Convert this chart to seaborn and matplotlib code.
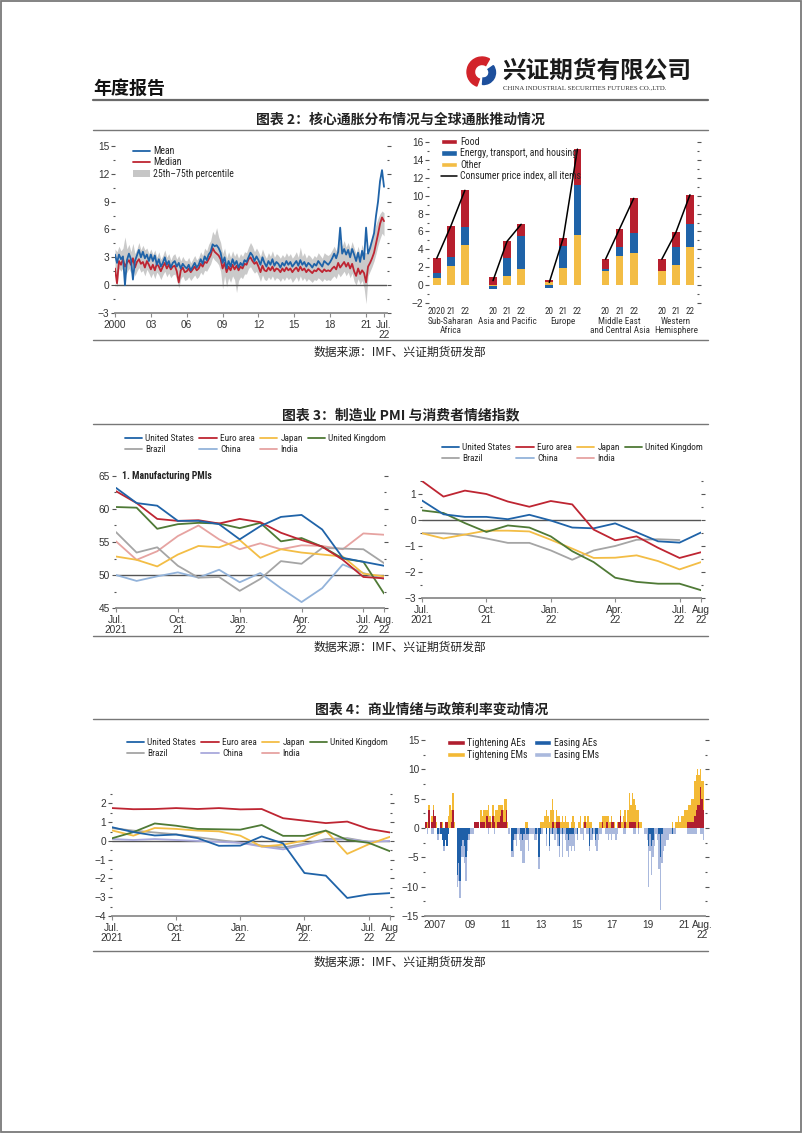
import numpy as np
import pandas as pd
import matplotlib
matplotlib.use('Agg')
import matplotlib.pyplot as plt
import seaborn as sns
from matplotlib.patches import Patch, Rectangle, Wedge
from matplotlib.lines import Line2D
from matplotlib import font_manager as fm
from matplotlib.ticker import MultipleLocator

sns.set_theme(style='white')
_names = {f.name for f in fm.fontManager.ttflist}
COND = next((n for n in ['Roboto Condensed', 'Archivo Narrow', 'PT Sans Narrow',
                         'IBM Plex Sans Condensed', 'Fira Sans Condensed',
                         'Barlow Semi Condensed', 'Liberation Sans Narrow', 'Liberation Sans']
             if n in _names), 'DejaVu Sans')
TICKF = 'Liberation Sans' if 'Liberation Sans' in _names else 'DejaVu Sans'
CJK = 'Noto Sans CJK SC'
plt.rcParams['font.family'] = [TICKF, 'DejaVu Sans']
plt.rcParams['axes.unicode_minus'] = True

# ---------------- Chart 1: core inflation distribution (bimonthly, 2000 - Jul 2022)
cpi_mean = [
    3.3, 2.4, 3.3, 2.8, 3.1, 0.0,
    2.7, 3.4, 2.8, 0.6, 2.6, 3.2,
    3.8, 3.0, 3.6, 2.9, 3.3, 2.6,
    3.3, 2.6, 3.2, 2.2, 2.8, 2.0,
    2.4, 3.0, 2.2, 2.6, 1.9, 2.4,
    2.6, 2.0, 2.4, 1.8, 2.3, 2.0,
    1.8, 2.2, 1.6, 2.0, 2.4, 1.9,
    2.2, 2.8, 2.3, 3.1, 2.7, 3.3,
    3.6, 4.4, 4.2, 4.3, 4.0, 3.5,
    2.4, 3.0, 1.8, 2.6, 2.0, 2.8,
    2.2, 2.6, 1.9, 2.4, 2.1, 2.7,
    2.5, 3.0, 3.5, 3.2, 2.6, 3.1,
    2.7, 2.2, 3.0, 2.4, 2.0, 2.6,
    2.2, 2.8, 2.1, 2.5, 2.3, 1.9,
    2.4, 2.1, 2.6, 2.2, 2.5, 2.0,
    2.3, 2.6, 2.1, 2.7, 2.2, 2.5,
    2.0, 2.4, 2.2, 1.9, 2.3, 2.1,
    2.6, 2.3, 2.0, 2.6, 2.4, 2.2,
    2.5, 2.9, 3.4, 2.9, 3.6, 6.2,
    3.4, 3.9, 3.3, 3.8, 3.0, 3.9,
    3.3, 2.6, 3.5, 2.5, 3.7, 2.8,
    6.2, 3.4, 4.0, 4.8, 5.6, 7.5,
    9.0, 11.2, 12.4, 10.6,
]
cpi_median = [
    1.8, 0.2, 2.6, 2.2, 2.8, 2.0,
    2.4, 2.7, 2.2, 2.9, 1.9, 2.5,
    2.8, 2.3, 2.5, 1.9, 2.6, 2.2,
    1.7, 2.2, 1.6, 2.3, 2.0, 1.5,
    2.0, 2.4, 1.8, 2.2, 1.7, 2.0,
    2.1, 1.5, 0.3, 1.6, 1.9, 1.4,
    1.5, 1.8, 1.4, 1.7, 2.0, 1.6,
    1.8, 2.3, 2.0, 2.5, 2.4, 2.8,
    3.2, 4.0, 3.6, 3.4, 3.2, 2.8,
    1.8, 2.4, 1.4, 2.0, 1.6, 2.2,
    1.7, 2.1, 1.6, 2.0, 1.8, 2.3,
    2.2, 2.8, 3.0, 2.6, 2.3, 2.5,
    2.0, 1.4, 2.1, 1.6, 1.5, 1.9,
    1.6, 2.0, 1.5, 1.8, 1.7, 1.4,
    1.8, 1.5, 1.9, 1.6, 1.8, 1.4,
    1.7, 1.9, 1.5, 2.0, 1.6, 1.8,
    1.4, 1.7, 1.5, 1.3, 1.6, 1.5,
    1.8, 1.6, 1.4, 1.7, 1.5, 1.6,
    1.5, 1.8, 2.0, 1.7, 2.4, 1.9,
    2.2, 2.5, 2.0, 2.4, 1.8, 2.3,
    1.5, 1.0, 1.8, 1.2, 1.6, 1.3,
    0.3, 2.0, 2.4, 2.9, 3.5, 4.5,
    5.5, 6.6, 7.3, 6.9,
]
cpi_p75 = [
    3.9, 3.6, 4.2, 3.7, 4.0, 5.2,
    3.9, 4.4, 3.6, 4.5, 3.4, 3.9,
    4.6, 3.8, 4.3, 3.8, 4.0, 3.4,
    3.9, 3.3, 3.8, 3.0, 3.6, 2.8,
    3.2, 3.8, 3.0, 3.4, 2.7, 3.2,
    3.4, 2.8, 3.2, 2.6, 3.1, 2.7,
    2.6, 3.0, 2.4, 2.8, 3.2, 2.7,
    3.0, 3.6, 3.2, 4.0, 3.7, 4.4,
    4.8, 5.8, 5.4, 6.2, 5.2, 4.6,
    3.4, 4.0, 2.9, 3.6, 3.0, 3.7,
    3.1, 3.5, 2.9, 3.4, 3.1, 3.6,
    3.5, 4.1, 4.6, 4.2, 3.6, 4.0,
    3.6, 3.1, 3.9, 3.3, 2.9, 3.5,
    3.1, 3.7, 3.0, 3.4, 3.2, 2.9,
    3.3, 3.0, 3.5, 3.1, 3.4, 2.9,
    3.2, 3.6, 3.0, 4.1, 3.1, 3.5,
    2.9, 3.3, 3.1, 2.8, 3.2, 3.0,
    3.5, 3.2, 2.9, 3.5, 3.3, 3.2,
    3.4, 3.8, 4.2, 3.7, 4.4, 4.8,
    4.2, 4.8, 4.1, 4.6, 3.9, 4.7,
    4.0, 3.4, 4.2, 3.3, 4.4, 3.5,
    3.5, 3.9, 4.6, 5.2, 5.8, 6.6,
    7.2, 7.7, 8.0, 7.8,
]
cpi_p25 = [
    1.2, -0.2, 1.8, 1.5, 1.9, 1.0,
    1.4, 1.8, 1.3, 2.0, 1.0, 1.5,
    1.9, 1.4, 1.6, 1.0, 1.7, 1.3,
    0.8, 1.3, 0.7, 1.4, 1.1, 0.6,
    1.1, 1.5, 0.9, 1.3, 0.8, 1.1,
    1.2, 0.6, -0.3, 0.7, 1.0, 0.5,
    0.6, 0.9, 0.5, 0.8, 1.1, 0.7,
    0.9, 1.4, 1.1, 1.6, 1.5, 1.9,
    2.3, 3.0, 2.7, 2.5, 2.2, 1.5,
    -0.4, 1.0, -0.2, 0.8, 0.3, 1.0,
    0.6, -0.8, 0.5, 0.9, 0.7, 1.2,
    1.2, 1.8, 2.0, 1.6, 1.3, 1.5,
    1.0, 0.4, 1.1, 0.6, 0.5, 0.9,
    0.6, 1.0, 0.5, 0.8, 0.7, 0.4,
    0.8, 0.5, 0.9, 0.6, 0.8, 0.3,
    0.6, 0.9, 0.4, 1.0, 0.5, 0.8,
    0.4, 0.7, 0.5, 0.3, 0.6, 0.5,
    0.8, 0.6, 0.4, 0.7, 0.5, 0.6,
    0.5, 0.8, 1.0, 0.7, 1.3, 0.9,
    1.2, 1.5, 1.0, 1.4, 0.8, 1.3,
    0.4, 0.0, 0.7, 0.1, 0.5, -0.3,
    -2.0, 1.0, 1.5, 2.0, 2.6, 3.4,
    4.3, 5.0, 5.6, 5.3,
]
c1_ticks = [2000, 2003, 2006, 2009, 2012, 2015, 2018, 2021, 2022.5]
c1_labels = ['2000', '03', '06', '09', '12', '15', '18', '21', 'Jul.\n22']

# ---------------- Chart 2: drivers of inflation by region
regions = ['Sub-Saharan\nAfrica', 'Asia and Pacific', 'Europe',
           'Middle East\nand Central Asia', 'Western\nHemisphere']
year_labels = ['2020', '21', '22', '20', '21', '22', '20', '21', '22',
               '20', '21', '22', '20', '21', '22']
food = [1.7, 3.5, 4.1, 0.9, 1.9, 1.3, 0.3, 0.9, 4.0, 1.1, 2.0, 3.9, 1.3, 1.6, 3.3]
energy = [0.5, 1.0, 2.0, -0.25, 2.0, 3.7, -0.35, 2.5, 5.6, 0.2, 1.0, 2.2, 0.0, 2.1, 2.5]
other = [0.8, 2.1, 4.5, -0.15, 1.0, 1.8, 0.3, 1.9, 5.6, 1.6, 3.3, 3.6, 1.6, 2.2, 4.3]
cpi_all = [3.0, 6.6, 10.6, 0.5, 4.9, 6.8, 0.3, 5.3, 15.2, 2.9, 6.3, 9.7, 2.9, 5.9, 10.1]

# ---------------- Chart 3: Manufacturing PMIs, Jul 2021 - Aug 2022
month_ticks = [0, 3, 6, 9, 12, 13]
pmi_us = [63.2, 60.9, 60.5, 58.2, 58.2, 57.7, 55.4, 57.4, 58.8, 59.1, 56.9, 52.6, 52.0, 51.4]
pmi_euro = [62.7, 60.9, 58.5, 58.2, 58.3, 57.8, 58.5, 58.0, 56.4, 55.3, 54.3, 52.3, 49.7, 49.5]
pmi_japan = [52.8, 52.3, 51.3, 53.1, 54.4, 54.2, 55.3, 52.6, 53.9, 53.4, 53.1, 52.8, 50.2, 49.8]
pmi_uk = [60.3, 60.2, 57.0, 57.7, 57.9, 57.8, 57.1, 57.9, 55.1, 55.6, 54.3, 52.5, 52.0, 47.2]
pmi_brazil = [56.5, 53.4, 54.2, 51.4, 49.6, 49.7, 47.6, 49.4, 52.1, 51.7, 54.1, 54.0, 53.9, 51.8]
pmi_china = [50.0, 49.1, 49.8, 50.4, 49.6, 50.8, 48.9, 50.3, 48.0, 45.9, 48.0, 51.6, 50.3, 49.4]
pmi_india = [55.1, 52.3, 53.6, 55.9, 57.5, 55.4, 53.9, 54.8, 53.9, 54.5, 54.4, 53.9, 56.3, 56.1]

# ---------------- Chart 3 right: consumer confidence
cc_us = [0.75, 0.22, 0.12, 0.12, 0.03, 0.2, -0.02, -0.29, -0.32, -0.13, -0.47, -0.82, -0.87, -0.48]
cc_euro = [1.5, 0.9, 1.13, 1.0, 0.71, 0.51, 0.73, 0.6, -0.37, -0.78, -0.63, -1.07, -1.46, -1.24]
cc_japan = [-0.51, -0.71, -0.56, -0.41, -0.41, -0.44, -0.76, -1.1, -1.46, -1.45, -1.36, -1.58, -1.9, -1.62]
cc_uk = [0.37, 0.27, -0.12, -0.46, -0.21, -0.29, -0.63, -1.2, -1.62, -2.22, -2.38, -2.45, -2.45, -2.7]
cc_brazil = [-0.51, -0.51, -0.56, -0.71, -0.88, -0.88, -1.17, -1.53, -1.17, -1.0, -0.76, -0.74, -0.77, np.nan]

# ---------------- Chart 4 left: business confidence
bc_us = [0.73, 0.47, 0.29, 0.34, 0.15, -0.26, -0.25, 0.24, -0.13, -1.71, -1.85, -3.04, -2.85, -2.78]
bc_euro = [1.75, 1.69, 1.7, 1.75, 1.7, 1.75, 1.68, 1.7, 1.21, 1.08, 0.95, 1.03, 0.64, 0.45]
bc_japan = [0.56, 0.28, 0.69, 0.64, 0.55, 0.51, 0.28, -0.3, -0.2, 0.02, 0.55, -0.69, -0.18, 0.22]
bc_uk = [0.14, 0.47, 0.93, 0.81, 0.64, 0.62, 0.6, 0.85, 0.27, 0.27, 0.55, 0.05, -0.1, -0.55]
bc_brazil = [0.68, 0.55, 0.45, 0.35, 0.2, 0.05, -0.1, -0.25, -0.35, -0.15, 0.1, 0.15, -0.05, np.nan]
bc_china = [0.1, 0.05, 0.1, 0.05, 0.0, -0.05, -0.1, -0.3, -0.45, -0.2, 0.05, 0.1, -0.05, 0.0]

# ---------------- Chart 4 right: policy rate changes (monthly, Jan 2007 - Aug 2022)
tight_ae = [
    1, 0, 3, 0, 1, 3, 2, 0, 0, 0, 1, 0,
    0, 1, 1, 0, 0, 1, 3, 0, 0, 0, 0, 0,
    0, 0, 0, 0, 0, 0, 0, 0, 0, 1, 1, 1,
    0, 1, 1, 1, 0, 2, 1, 1, 0, 2, 1, 0,
    1, 1, 2, 3, 1, 1, 3, 0, 0, 0, 0, 0,
    0, 0, 0, 0, 0, 0, 0, 0, 0, 0, 0, 0,
    0, 0, 0, 0, 0, 0, 0, 0, 0, 0, 0, 0,
    0, 1, 1, 0, 1, 1, 1, 0, 0, 0, 0, 0,
    0, 0, 0, 0, 0, 0, 0, 0, 0, 0, 0, 1,
    0, 0, 0, 0, 0, 0, 0, 0, 0, 0, 0, 1,
    0, 0, 1, 0, 0, 1, 1, 0, 0, 0, 1, 2,
    0, 0, 1, 0, 0, 1, 1, 1, 1, 1, 0, 1,
    0, 0, 0, 0, 0, 0, 0, 0, 0, 0, 0, 0,
    0, 0, 0, 0, 0, 0, 0, 0, 0, 0, 0, 0,
    0, 0, 0, 0, 0, 0, 0, 0, 1, 1, 1, 1,
    1, 2, 3, 4, 4, 7, 5, 3,
]
tight_em = [
    0, 1, 1, 0, 1, 1, 0, 1, 0, 0, 0, 1,
    0, 0, 0, 2, 4, 2, 3, 1, 0, 0, 0, 0,
    0, 0, 0, 0, 0, 0, 0, 0, 0, 0, 0, 0,
    0, 2, 1, 2, 3, 1, 3, 1, 1, 2, 1, 3,
    2, 3, 2, 1, 2, 4, 2, 1, 0, 0, 0, 0,
    0, 0, 0, 0, 0, 0, 0, 1, 1, 0, 0, 0,
    0, 0, 0, 0, 0, 1, 1, 1, 2, 3, 2, 1,
    3, 4, 2, 1, 2, 1, 1, 1, 2, 1, 2, 1,
    1, 0, 1, 2, 1, 0, 0, 1, 2, 0, 1, 1,
    1, 2, 1, 1, 0, 0, 0, 0, 0, 1, 1, 1,
    2, 2, 1, 2, 1, 1, 0, 1, 0, 1, 0, 1,
    1, 2, 2, 1, 3, 5, 3, 5, 4, 3, 3, 2,
    1, 1, 0, 0, 0, 0, 0, 0, 0, 0, 0, 0,
    0, 0, 0, 0, 0, 0, 0, 0, 0, 0, 1, 0,
    1, 1, 2, 1, 2, 2, 3, 3, 2, 3, 3, 4,
    4, 6, 6, 6, 5, 3, 3, 5,
]
ease_ae = [
    0, 0, 0, 0, 0, 0, 0, 0, -1, 0, -1, -2,
    -3, -2, -3, -1, 0, 0, 0, 0, 0, -8, -6, -9,
    -3, -2, -3, -5, -2, -1, 0, 0, 0, 0, 0, 0,
    0, 0, 0, 0, 0, 0, 0, 0, 0, 0, 0, 0,
    0, 0, 0, 0, 0, 0, 0, 0, 0, 0, -4, -2,
    -1, -1, 0, 0, -1, -2, -1, 0, -1, -1, 0, 0,
    0, 0, -1, 0, -5, -1, 0, 0, 0, -1, 0, -3,
    0, -1, 0, 0, 0, -1, -3, 0, -1, 0, 0, -1,
    -2, -1, -1, -1, 0, 0, -1, 0, 0, 0, 0, 0,
    0, 0, -3, 0, -1, 0, -2, -1, 0, 0, 0, 0,
    0, 0, 0, 0, 0, 0, 0, 0, 0, 0, 0, 0,
    0, 0, 0, 0, 0, 0, 0, 0, 0, 0, 0, 0,
    0, 0, 0, 0, 0, 0, -3, -1, -3, -2, 0, 0,
    0, -1, -5, -1, 0, 0, 0, 0, 0, 0, -1, 0,
    0, 0, 0, 0, 0, 0, 0, 0, 0, 0, 0, 0,
    0, 0, 0, 0, 0, 0, 0, 0,
]
ease_em = [
    0, -1, 0, 0, -1, -1, 0, 0, -1, -1, 0, 0,
    -1, 0, 0, 0, 0, 0, 0, 0, 0, -2, -3, -3,
    -2, -3, -3, -4, -2, -1, -1, -1, -1, 0, 0, 0,
    0, 0, 0, 0, 0, 0, -1, 0, 0, 0, -1, 0,
    0, 0, 0, 0, 0, 0, 0, 0, -1, 0, -1, -3,
    -1, -2, -1, -2, -3, -4, -5, -2, -1, -3, -1, -1,
    -1, -2, -1, -1, -2, 0, -1, 0, 0, -2, 0, -1,
    -1, 0, -1, -2, -1, -2, -2, -1, -4, -1, -2, -3,
    -3, -2, -3, -2, -4, -1, -1, 0, -1, -1, -2, 0,
    -1, -1, -1, -2, -1, -1, -1, -3, -2, -1, -1, 0,
    0, -1, -1, -2, -1, -2, -1, -1, -2, -1, 0, 0,
    0, -1, -1, 0, 0, 0, 0, 0, -1, -1, 0, -1,
    0, 0, 0, -1, -1, -2, -7, -3, -5, -3, -3, -1,
    -2, -6, -9, -5, -4, -3, -2, -2, -1, -1, 0, -1,
    -1, 0, 0, 0, 0, 0, 0, 0, -1, -1, -1, -1,
    -1, -1, -1, 0, 0, -1, -1, -2,
]
c4r_ticks = [2007.5, 2009.5, 2011.5, 2013.5, 2015.5, 2017.5, 2019.5, 2021.5, 2022.55]
c4r_labels = ['2007', '09', '11', '13', '15', '17', '19', '21', 'Aug.\n22']

# ---------------- colours
BLUE = '#1f63a8'
RED = '#be2532'
YEL = '#f3bd45'
GREEN = '#4f7a36'
GRAY = '#a5a5a5'
LBLUE = '#93b3da'
LAV = '#a9a9dc'
PINK = '#e6a3a1'
TXT = '#222222'
LEGF = 6.7

W, H = 802, 1133
fig = plt.figure(figsize=(W / 100, H / 100), dpi=100)


def rect(x0, y0, x1, y1):
    return [x0 / W, 1 - y1 / H, (x1 - x0) / W, (y1 - y0) / H]


def fpt(x, y):
    return (x / W, 1 - y / H)


# background / page layer
bg = fig.add_axes([0, 0, 1, 1])
bg.set_xlim(0, W)
bg.set_ylim(H, 0)
bg.axis('off')
bg.add_patch(Rectangle((1, 1), W - 2.5, H - 2.5, fill=False, edgecolor='#7a7a7a', lw=1.3))
bg.text(93, 88, '年度报告', fontsize=13, weight='bold', family=[CJK, 'DejaVu Sans'],
        ha='left', va='center', color='#111111')
bg.add_patch(Wedge((482, 72), 15, 110, 300, width=7.5, color='#d2232a'))
bg.add_patch(Wedge((483.5, 72.5), 12, -35, 95, width=6.5, color='#1d4f9c'))
bg.text(502, 71, '兴证期货有限公司', fontsize=17, weight='bold', family=[CJK, 'DejaVu Sans'],
        ha='left', va='center', color='#1a1a1a')
bg.text(503, 87.5, 'CHINA INDUSTRIAL SECURITIES FUTURES CO.,LTD.', fontsize=4.9,
        family=['Liberation Serif', 'DejaVu Serif'], ha='left', va='center', color='#333333')
bg.plot([93, 708], [100, 100], color='#6a6a6a', lw=1.6)

titles = [(400, 120, '图表 2：核心通胀分布情况与全球通胀推动情况', 130),
          (401, 415, '图表 3：制造业 PMI 与消费者情绪指数', 424),
          (432, 710, '图表 4：商业情绪与政策利率变动情况', 719)]
for x, y, s, ly in titles:
    bg.text(x, y, s, fontsize=10, weight='bold', family=[CJK, 'DejaVu Sans'],
            ha='center', va='center', color=TXT)
    bg.plot([93, 708], [ly, ly], color='#777777', lw=1.0)
for ly, sy in [(340, 352), (636, 647), (951, 962)]:
    bg.plot([93, 708], [ly, ly], color='#777777', lw=1.0)
    bg.text(400, sy, '数据来源：IMF、兴证期货研发部', fontsize=8.5, family=[CJK, 'DejaVu Sans'],
            ha='center', va='center', color=TXT)


def style(ax, ymin, ymax, major, minor, bottom=True):
    ax.set_facecolor('none')
    ax.set_ylim(ymin, ymax)
    ax.yaxis.set_major_locator(MultipleLocator(major))
    ax.yaxis.set_minor_locator(MultipleLocator(minor))
    for s in ['top', 'right', 'left']:
        ax.spines[s].set_visible(False)
    ax.spines['bottom'].set_visible(bottom)
    ax.spines['bottom'].set_color('#8c8c8c')
    ax.spines['bottom'].set_linewidth(1.3)
    ax.tick_params(axis='y', which='both', left=True, right=True, labelleft=True,
                   labelright=False, direction='out', width=0.8, color='#555555',
                   labelsize=7.3, labelcolor='#333333', pad=1.5)
    ax.tick_params(axis='y', which='major', length=2.8)
    ax.tick_params(axis='y', which='minor', length=1.6)
    ax.tick_params(axis='x', which='both', bottom=True, top=False, direction='out', length=3,
                   width=0.8, color='#8c8c8c', labelsize=7.3, labelcolor='#333333', pad=2)
    ax.grid(False)


def set_xlabels(ax, ticks, labels):
    ax.set_xticks(ticks)
    ax.set_xticklabels(labels)
    for t in ax.get_xticklabels():
        t.set_linespacing(0.95)


def line_legend(ax, entries, x, y, ncol=4, colspace=0.55):
    handles = [Line2D([], [], color=c, lw=1.3) for _, c in entries]
    ax.legend(handles, [l for l, _ in entries], loc='upper left', bbox_to_anchor=fpt(x, y),
              bbox_transform=fig.transFigure, ncol=ncol, frameon=False,
              prop={'family': COND, 'size': LEGF},
              handlelength=1.85, handletextpad=0.35, columnspacing=colspace,
              labelspacing=0.2, borderpad=0, borderaxespad=0)


# ---------------- Chart 1
ax1 = fig.add_axes(rect(115, 146, 387, 313))
t1 = 2000 + np.arange(len(cpi_mean)) / 6
ax1.fill_between(t1, cpi_p25, cpi_p75, color='#cacaca', lw=0)
ax1.axhline(0, color='#555555', lw=1.0)
sns.lineplot(x=t1, y=cpi_median, ax=ax1, color=RED, lw=1.3)
sns.lineplot(x=t1, y=cpi_mean, ax=ax1, color=BLUE, lw=1.3)
style(ax1, -3, 15, 3, 1.5)
ax1.set_xlim(2000, 2022.75)
set_xlabels(ax1, c1_ticks, c1_labels)
h1 = [Line2D([], [], color=BLUE, lw=1.3), Line2D([], [], color=RED, lw=1.3),
      Patch(facecolor='#c6c6c6', edgecolor='none')]
ax1.legend(h1, ['Mean', 'Median', '25th–75th percentile'], loc='upper left',
           bbox_to_anchor=fpt(133, 146), bbox_transform=fig.transFigure, frameon=False,
           prop={'family': COND, 'size': LEGF + 0.3}, handlelength=1.75, handleheight=0.6,
           handletextpad=0.3, labelspacing=0.15, borderpad=0, borderaxespad=0)
ax1.set_xlabel('')
ax1.set_ylabel('')

# ---------------- Chart 2
ax2 = fig.add_axes(rect(429, 142, 697, 303))
pos = np.array([g * 4 + j for g in range(len(regions)) for j in range(3)])
pos_cum = np.zeros(len(pos))
neg_cum = np.zeros(len(pos))
for vals, col in [(other, YEL), (energy, BLUE), (food, '#b71f2e')]:
    v = np.array(vals, dtype=float)
    bottom = np.where(v >= 0, pos_cum, neg_cum)
    ax2.bar(pos, v, bottom=bottom, width=0.55, color=col, lw=0)
    pos_cum = pos_cum + np.where(v >= 0, v, 0)
    neg_cum = neg_cum + np.where(v < 0, v, 0)
df2 = pd.DataFrame({'pos': pos, 'cpi': cpi_all, 'grp': np.repeat(np.arange(len(regions)), 3)})
sns.lineplot(data=df2, x='pos', y='cpi', units='grp', estimator=None, color='black', lw=1.1,
             ax=ax2)
style(ax2, -2, 16, 2, 1, bottom=False)
ax2.set_xlim(-0.55, 18.5)
ax2.set_xticks(pos)
ax2.set_xticklabels(year_labels, family=COND, fontsize=6.6)
ax2.tick_params(axis='x', length=0, pad=3)
for g, name in enumerate(regions):
    ax2.text(pos[g * 3 + 1], -0.085, name, transform=ax2.get_xaxis_transform(), ha='center',
             va='top', fontsize=6.6, family=COND, linespacing=1.05, color='#333333')
h2 = [Patch(facecolor='#b71f2e'), Patch(facecolor=BLUE), Patch(facecolor=YEL),
      Line2D([], [], color='black', lw=1.1)]
ax2.legend(h2, ['Food', 'Energy, transport, and housing', 'Other',
                'Consumer price index, all items'], loc='upper left',
           bbox_to_anchor=fpt(441, 137), bbox_transform=fig.transFigure, frameon=False,
           prop={'family': COND, 'size': LEGF + 0.3}, handlelength=1.65, handleheight=0.55,
           handletextpad=0.3, labelspacing=0.15, borderpad=0, borderaxespad=0)
ax2.set_xlabel('')
ax2.set_ylabel('')


def country_lines(ax, series, cols):
    frames = []
    for name, vals in series:
        frames.append(pd.DataFrame({'m': np.arange(len(vals)), 'v': vals, 'c': name}))
    df = pd.concat(frames, ignore_index=True).dropna()
    order = [n for n, _ in series]
    pal = {n: cols[n] for n in order}
    sns.lineplot(data=df, x='m', y='v', hue='c', hue_order=order, palette=pal,
                 estimator=None, sort=False, lw=1.3, legend=False, ax=ax)
    ax.set_xlabel('')
    ax.set_ylabel('')


LEG_ORDER = ['United States', 'Brazil', 'Euro area', 'China', 'Japan', 'India', 'United Kingdom']
COLS3 = {'United States': BLUE, 'Euro area': RED, 'Japan': YEL, 'United Kingdom': GREEN,
         'Brazil': GRAY, 'China': LBLUE, 'India': PINK}
COLS4 = dict(COLS3, China=LAV)

# ---------------- Chart 3 left
ax3 = fig.add_axes(rect(116, 476, 384, 608))
ax3.axhline(50, color='#555555', lw=1.0)
country_lines(ax3, [('India', pmi_india), ('China', pmi_china), ('Brazil', pmi_brazil),
                    ('Japan', pmi_japan), ('United Kingdom', pmi_uk), ('Euro area', pmi_euro),
                    ('United States', pmi_us)], COLS3)
style(ax3, 45, 65, 5, 2.5)
ax3.set_xlim(0, 13)
set_xlabels(ax3, month_ticks, ['Jul.\n2021', 'Oct.\n21', 'Jan.\n22', 'Apr.\n22', 'Jul.\n22', 'Aug.\n22'])
ax3.text(0.022, 1.0, '1. Manufacturing PMIs', transform=ax3.transAxes, ha='left', va='center',
         fontsize=7.0, family=COND, fontweight='bold', color=TXT)
line_legend(ax3, [(n, COLS3[n]) for n in LEG_ORDER], 125, 434)

# ---------------- Chart 3 right
ax4 = fig.add_axes(rect(422, 481, 701, 598))
ax4.axhline(0, color='#555555', lw=1.0)
country_lines(ax4, [('Brazil', cc_brazil), ('Japan', cc_japan), ('United Kingdom', cc_uk),
                    ('United States', cc_us), ('Euro area', cc_euro)], COLS3)
style(ax4, -3, 1.5, 1, 0.5)
ax4.set_xlim(0, 13)
set_xlabels(ax4, month_ticks, ['Jul.\n2021', 'Oct.\n21', 'Jan.\n22', 'Apr.\n22', 'Jul.\n22', 'Aug\n22'])
line_legend(ax4, [(n, COLS3[n]) for n in LEG_ORDER], 442, 443)

# ---------------- Chart 4 left
ax5 = fig.add_axes(rect(112, 794, 390, 916))
ax5.axhline(0, color='#555555', lw=1.0)
country_lines(ax5, [('Brazil', bc_brazil), ('China', bc_china), ('Japan', bc_japan),
                    ('United Kingdom', bc_uk), ('Euro area', bc_euro), ('United States', bc_us)],
              COLS4)
style(ax5, -4, 2.5, 1, 0.5)
ax5.set_xlim(0, 13)
set_xlabels(ax5, month_ticks, ['Jul.\n2021', 'Oct.\n21', 'Jan.\n22', 'Apr.\n22.', 'Jul.\n22', 'Aug\n22'])
line_legend(ax5, [(n, COLS4[n]) for n in LEG_ORDER], 127, 738)

# ---------------- Chart 4 right
ax6 = fig.add_axes(rect(425, 740, 705, 916))
t6 = 2007 + (np.arange(len(tight_ae)) + 0.5) / 12
ta = np.array(tight_ae)
ea = np.array(ease_ae)
BW = 1 / 12
ax6.bar(t6, ta, width=BW, color='#b01e2f', lw=0)
ax6.bar(t6, tight_em, bottom=ta, width=BW, color='#f3b935', lw=0)
ax6.bar(t6, ea, width=BW, color='#1f5fa8', lw=0)
ax6.bar(t6, ease_em, bottom=ea, width=BW, color='#aab9dd', lw=0)
style(ax6, -15, 15, 5, 2.5)
ax6.set_xlim(2006.98, 2022.7)
set_xlabels(ax6, c4r_ticks, c4r_labels)
ax6.tick_params(axis='x', length=0, pad=3)
h6 = [Patch(facecolor='#b01e2f'), Patch(facecolor='#f3b935'), Patch(facecolor='#1f5fa8'),
      Patch(facecolor='#aab9dd')]
ax6.legend(h6, ['Tightening AEs', 'Tightening EMs', 'Easing AEs', 'Easing EMs'], ncol=2,
           loc='upper left', bbox_to_anchor=fpt(447, 738), bbox_transform=fig.transFigure,
           frameon=False, prop={'family': COND, 'size': LEGF + 0.4}, handlelength=1.8,
           handleheight=0.55, handletextpad=0.25, columnspacing=0.6, labelspacing=0.2,
           borderpad=0, borderaxespad=0)

fig.savefig('out.png', dpi=100)
